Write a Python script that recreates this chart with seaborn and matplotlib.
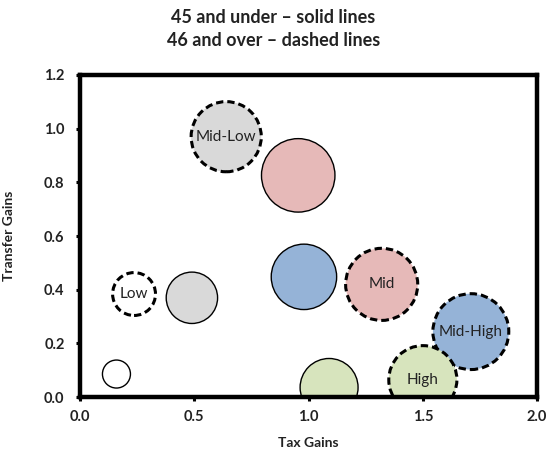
import matplotlib
matplotlib.use("Agg")
import matplotlib.pyplot as plt
import pandas as pd
import seaborn as sns

# income groups, one bubble per group and age band
groups = ["Low", "Mid-Low", "Mid", "Mid-High", "High"]
group_colors = ["#ffffff", "#d9d9d9", "#e6b9b8", "#95b3d7", "#d7e4bd"]

# 45 and under (solid outline)
tax_under45 = [0.16, 0.49, 0.955, 0.98, 1.09]
transfer_under45 = [0.086, 0.37, 0.826, 0.448, 0.036]
size_under45 = [1.96, 6.6, 13.5, 10.7, 8.4]

# 46 and over (dashed outline)
tax_over46 = [0.237, 0.64, 1.32, 1.71, 1.50]
transfer_over46 = [0.384, 0.97, 0.42, 0.244, 0.065]
size_over46 = [4.6, 12.3, 13.0, 14.4, 11.6]

x_ticks = [0.0, 0.5, 1.0, 1.5, 2.0]
y_ticks = [0.0, 0.2, 0.4, 0.6, 0.8, 1.0, 1.2]

sns.set_style("white")
plt.rcParams["font.family"] = ["Lato", "DejaVu Sans"]

under = pd.DataFrame({"group": groups, "tax": tax_under45,
                      "transfer": transfer_under45, "size": size_under45})
over = pd.DataFrame({"group": groups, "tax": tax_over46,
                     "transfer": transfer_over46, "size": size_over46})
palette = dict(zip(groups, group_colors))

fig, ax = plt.subplots(figsize=(5.47, 4.57), dpi=100)
fig.subplots_adjust(left=0.146, right=0.982, top=0.836, bottom=0.131)

common = dict(x="tax", y="transfer", hue="group", size="size", palette=palette,
              sizes=(0, 3110), size_norm=(0, 15), legend=False, ax=ax)
sns.scatterplot(data=under, edgecolor="black", linewidth=1.0, alpha=1, **common)
sns.scatterplot(data=over, edgecolor="black", linewidth=2.2,
                linestyle=(0, (2.4, 1.3)), alpha=1, **common)

for _, row in over.iterrows():
    ax.text(row["tax"], row["transfer"], row["group"], ha="center", va="center",
            fontsize=11, color="#222222")

ax.set_xlim(0, 2.0)
ax.set_ylim(0, 1.2)
ax.set_xticks(x_ticks)
ax.set_yticks(y_ticks)
ax.set_xticklabels([f"{v:.1f}" for v in x_ticks], fontweight="bold")
ax.set_yticklabels([f"{v:.1f}" for v in y_ticks], fontweight="bold")
ax.tick_params(axis="both", direction="out", length=3, width=2.2, color="black",
               labelsize=10.5, labelcolor="#222222", bottom=True, left=True)
ax.tick_params(axis="x", pad=6)
ax.tick_params(axis="y", pad=8)

for spine in ax.spines.values():
    spine.set_visible(True)
    spine.set_color("black")
    spine.set_linewidth(3.2)

ax.set_xlabel("Tax Gains", fontweight="bold", fontsize=10, color="#222222")
ax.set_ylabel("Transfer Gains", fontweight="bold", fontsize=10, color="#222222")
ax.xaxis.set_label_coords(0.5, -0.124)
ax.yaxis.set_label_coords(-0.142, 0.5)

fig.text(0.5, 0.962, "45 and under \u2013 solid lines", ha="center", va="center",
         fontsize=13, fontweight="bold", color="#222222")
fig.text(0.5, 0.912, "46 and over \u2013 dashed lines", ha="center", va="center",
         fontsize=13, fontweight="bold", color="#222222")

fig.savefig("out.png", dpi=100)
